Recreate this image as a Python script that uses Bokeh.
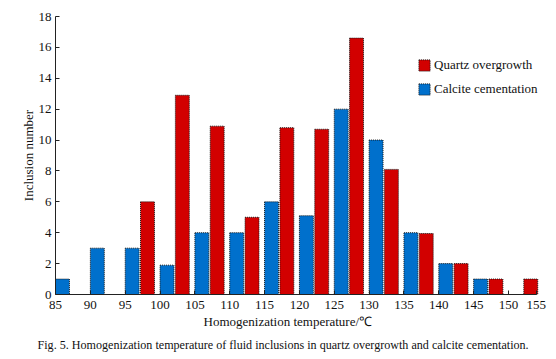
import numpy as np
from bokeh.plotting import figure
from bokeh.models import (FixedTicker, Legend, LegendItem, Title, Range1d)
from bokeh.embed import file_html
from bokeh.resources import INLINE

# ---- data ----
bins = [85, 90, 95, 100, 105, 110, 115, 120, 125, 130, 135, 140, 145, 150]
calcite = [1, 3, 3, 1.9, 4, 4, 6, 5.1, 12, 10, 4, 2, 1, 0]
quartz = [0, 0, 6, 12.9, 10.9, 5, 10.8, 10.7, 16.6, 8.1, 3.95, 2, 1, 1]
x_ticks = [85, 90, 95, 100, 105, 110, 115, 120, 125, 130, 135, 140, 145, 150, 154]
x_tick_labels = ["85", "90", "95", "100", "105", "110", "115", "120", "125",
                 "130", "135", "140", "145", "150", "155"]
y_ticks = [0, 2, 4, 6, 8, 10, 12, 14, 16, 18]

SERIF = "Liberation Serif"
RED = "#d20000"
BLUE = "#0070cc"

b = np.array(bins, dtype=float)
bar_w = 2.0

p = figure(width=556, height=359, output_backend="svg", toolbar_location=None,
           x_range=Range1d(85, 155.6), y_range=Range1d(0, 18),
           min_border_left=55, min_border_right=9, min_border_top=16,
           min_border_bottom=65, title=None)
p.outline_line_color = None
p.xgrid.visible = False
p.ygrid.visible = False
p.background_fill_color = "white"
p.border_fill_color = "white"

r_blue = p.quad(left=b, right=b + bar_w, bottom=0, top=calcite,
                fill_color=BLUE, line_color="#1a1a1a", line_dash="1 1", line_width=1)
r_red = p.quad(left=b + 2.2, right=b + 2.2 + bar_w, bottom=0, top=quartz,
               fill_color=RED, line_color="#1a1a1a", line_dash="1 1", line_width=1)

for ax in (p.xaxis[0], p.yaxis[0]):
    ax.axis_line_color = "#222222"
    ax.axis_line_width = 1
    ax.major_tick_line_color = "#222222"
    ax.major_tick_in = 4
    ax.major_tick_out = 0
    ax.minor_tick_in = 0
    ax.minor_tick_out = 0
    ax.major_label_text_font = SERIF
    ax.major_label_text_font_size = "13px"
    ax.major_label_text_color = "#111111"
    ax.axis_label_text_font = SERIF
    ax.axis_label_text_font_size = "13px"
    ax.axis_label_text_font_style = "normal"
    ax.axis_label_text_color = "#111111"

p.xaxis.ticker = FixedTicker(ticks=x_ticks)
p.xaxis.major_label_overrides = {t: s for t, s in zip(x_ticks, x_tick_labels)}
p.xaxis.major_label_standoff = 6
p.xaxis.bounds = (85, 154)
p.yaxis.ticker = FixedTicker(ticks=y_ticks)
p.yaxis.major_label_standoff = 4
p.yaxis.axis_label = "Inclusion number"
p.yaxis.axis_label_standoff = 0

t1 = Title(text="Homogenization temperature/\u2103", align="left", offset=148,
           text_font=SERIF, text_font_size="13px", text_font_style="normal",
           text_color="#111111", standoff=0)
t2 = Title(text="Fig. 5. Homogenization temperature of fluid inclusions in quartz overgrowth and calcite cementation.",
           align="left", offset=-21,
           text_font=SERIF, text_font_size="12.1px", text_font_style="normal",
           text_color="#111111", standoff=8, padding=3)
p.add_layout(t1, "below")
p.add_layout(t2, "below")

legend = Legend(items=[LegendItem(label="Quartz overgrowth", renderers=[r_red]),
                       LegendItem(label="Calcite cementation", renderers=[r_blue])],
                location=(362, 197), padding=0, margin=0, spacing=8,
                glyph_width=14, glyph_height=14, label_height=14,
                label_standoff=3, label_text_font=SERIF,
                label_text_font_size="13px", label_text_color="#111111",
                border_line_color=None, background_fill_alpha=0)
p.add_layout(legend, "center")

open("out.html", "w").write(file_html(p, INLINE))
